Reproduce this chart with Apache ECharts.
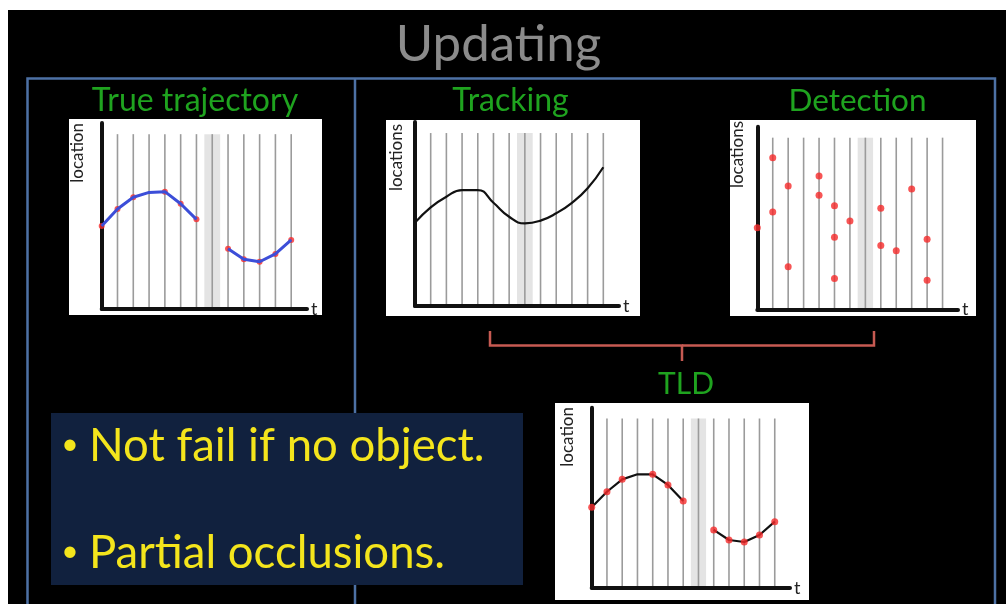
<!DOCTYPE html>
<html><head><meta charset="utf-8">
<script src="https://cdn.jsdelivr.net/npm/echarts@6/dist/echarts.min.js"></script>
<style>html,body{margin:0;padding:0;background:#000;}#c{width:1006px;height:604px;}</style>
</head><body><div id="c"></div>
<script>
// ---- data ----
const slideTitle = 'Updating';
const panelTitles = ['True trajectory', 'Tracking', 'Detection', 'TLD'];
const yNames = ['location', 'locations', 'locations', 'location'];
const xName = 't';
const bullets = ['Not fail if no object.', 'Partial occlusions.'];
const gridT = [1, 2, 3, 4, 5, 6, 7, 8, 9, 10, 11, 12];
const bandT = [6.5, 7.5];
const gridTop = 94;
const tValues = [0, 1, 2, 3, 4, 5, 6, 7, 8, 9, 10, 11, 12];
const trueLoc = [44.6, 53.8, 60.1, 62.7, 63.1, 56.6, 48.2, null, 32.4, 26.7, 25.4, 29.6, 37.1];
const trueDotT = [0, 1, 2, 4, 5, 6, 8, 9, 10, 11, 12];
const trackLoc = [45.3, 53.6, 59.4, 63.0, 63.0, 56.1, 48.5, 44.9, 46.4, 50.4, 56.1, 64.0, 75.4];
const detT =   [0,    1,    1,    2,    2,    4,    4,    5,    5,    5,    6,    8,    8,    9,    10,   11,   11];
const detLoc = [44.7, 83.0, 53.3, 67.5, 23.3, 73.0, 62.4, 56.7, 39.4, 16.8, 48.4, 55.3, 35.0, 32.1, 65.9, 38.3, 15.9];
const tldLoc = [44.7, 53.3, 60.2, 63.0, 63.0, 57.1, 48.2, null, 32.1, 26.5, 25.4, 29.3, 36.7];
const tldDotT = [0, 1, 2, 4, 5, 6, 8, 9, 10, 11, 12];

// ---- layout ----
const FONT = 'Lato, "Open Sans", sans-serif';
const grids = [
  {left: 101.7, top: 123, width: 205.3, height: 186},
  {left: 415, top: 122, width: 204, height: 184},
  {left: 757.3, top: 126.7, width: 200.7, height: 182.6},
  {left: 591.7, top: 407.7, width: 198.3, height: 180}
];
const panels = [
  {x: 69, y: 119, w: 253, h: 196},
  {x: 386, y: 120, w: 254, h: 196},
  {x: 730, y: 120, w: 246, h: 196},
  {x: 555, y: 403, w: 254, h: 197}
];
const titlePos = [[195, 101], [510.5, 101], [857.5, 101], [686, 384]];
const titleSize = [32, 32, 31.5, 30];
const yNamePos = [[78, 123], [397, 124], [738, 121], [568, 407]];

const axisLine = {show: true, lineStyle: {color: '#111', width: 4}};
const xAxes = grids.map((g, i) => ({
  type: 'value', gridIndex: i, min: 0, max: 13, z: 3,
  axisLine: axisLine, axisTick: {show: false}, axisLabel: {show: false}, splitLine: {show: false},
  name: xName, nameLocation: 'end', nameGap: 4,
  nameTextStyle: {color: '#222', fontSize: 18, fontFamily: FONT, verticalAlign: 'middle'}
}));
const yAxes = grids.map((g, i) => ({
  type: 'value', gridIndex: i, min: 0, max: 100, z: 3,
  axisLine: axisLine, axisTick: {show: false}, axisLabel: {show: false}, splitLine: {show: false}
}));

function gridLineSeries(i) {
  return {
    type: 'custom', xAxisIndex: i, yAxisIndex: i, silent: true, z: 1,
    data: gridT.map(t => [t, gridTop]),
    renderItem: (params, api) => {
      const p0 = api.coord([api.value(0), 0]);
      const p1 = api.coord([api.value(0), api.value(1)]);
      return {type: 'line', shape: {x1: p0[0], y1: p0[1], x2: p1[0], y2: p1[1]},
        style: {stroke: '#9b9b9b', lineWidth: 1.6}};
    }
  };
}
function bandSeries(i) {
  return {
    type: 'custom', xAxisIndex: i, yAxisIndex: i, silent: true, z: 0.5,
    data: [[bandT[0], bandT[1], gridTop]],
    renderItem: (params, api) => {
      const a = api.coord([api.value(0), api.value(2)]);
      const b = api.coord([api.value(1), 0]);
      return {type: 'rect', shape: {x: a[0], y: a[1], width: b[0] - a[0], height: b[1] - a[1]},
        style: {fill: '#e4e4e4'}};
    }
  };
}

const series = [];
for (let i = 0; i < 4; i++) { series.push(bandSeries(i)); series.push(gridLineSeries(i)); }
// True trajectory
series.push({type: 'scatter', xAxisIndex: 0, yAxisIndex: 0, z: 4, symbolSize: 6,
  itemStyle: {color: '#f52a2a'}, data: trueDotT.map(t => [t, trueLoc[t]])});
series.push({type: 'line', xAxisIndex: 0, yAxisIndex: 0, z: 5, showSymbol: false, connectNulls: false,
  lineStyle: {color: '#3c4ed8', width: 3}, data: tValues.map(t => [t, trueLoc[t]])});
// Tracking
series.push({type: 'line', xAxisIndex: 1, yAxisIndex: 1, z: 5, showSymbol: false, smooth: 0.5,
  lineStyle: {color: '#111', width: 2.2}, data: tValues.map(t => [t, trackLoc[t]])});
// Detection
series.push({type: 'scatter', xAxisIndex: 2, yAxisIndex: 2, z: 5, symbolSize: 7,
  itemStyle: {color: '#f52a2a'}, data: detT.map((t, k) => [t, detLoc[k]])});
// TLD
series.push({type: 'line', xAxisIndex: 3, yAxisIndex: 3, z: 5, showSymbol: false, connectNulls: false,
  lineStyle: {color: '#111', width: 2.2}, data: tValues.map(t => [t, tldLoc[t]])});
series.push({type: 'scatter', xAxisIndex: 3, yAxisIndex: 3, z: 6, symbolSize: 7,
  itemStyle: {color: '#f52a2a'}, data: tldDotT.map(t => [t, tldLoc[t]])});

const frame = '#4d71a5';
const graphic = [
  {type: 'rect', z: -10, shape: {x: 0, y: 0, width: 1006, height: 10}, style: {fill: '#fff'}},
  {type: 'rect', z: -10, shape: {x: 0, y: 0, width: 8, height: 604}, style: {fill: '#fff'}},
  {type: 'polyline', z: -9, shape: {points: [[27.5, 604], [27.5, 78.5], [995, 78.5], [995, 604]]}, style: {stroke: frame, lineWidth: 2.5, fill: null}},
  {type: 'line', z: -9, shape: {x1: 355, y1: 78.5, x2: 355, y2: 604}, style: {stroke: frame, lineWidth: 2.5}},
  {type: 'rect', z: -8, shape: {x: 51, y: 413, width: 472, height: 172}, style: {fill: '#11213e'}},
  {type: 'text', z: 10, x: 498.5, y: 45, style: {text: slideTitle, fill: '#8b8b8b', font: '51px ' + FONT, textAlign: 'center', textVerticalAlign: 'middle'}},
  {type: 'polyline', z: -7, shape: {points: [[490, 331], [490, 345.5], [682, 345.5], [682, 361]]}, style: {stroke: '#c65a52', lineWidth: 2.5, fill: null}},
  {type: 'polyline', z: -7, shape: {points: [[682, 345.5], [874, 345.5], [874, 331]]}, style: {stroke: '#c65a52', lineWidth: 2.5, fill: null}}
];
bullets.forEach((b, k) => {
  const y = [446, 553][k];
  graphic.push({type: 'text', z: 10, x: 70, y: y - 2, style: {text: '\u2022', fill: '#f4e51c', font: '30px ' + FONT, textAlign: 'center', textVerticalAlign: 'middle'}});
  graphic.push({type: 'text', z: 10, x: 89, y: y, style: {text: b, fill: '#f4e51c', font: '45.5px ' + FONT, textAlign: 'left', textVerticalAlign: 'middle'}});
});
panels.forEach((p, i) => {
  graphic.push({type: 'rect', z: -6, shape: {x: p.x, y: p.y, width: p.w, height: p.h}, style: {fill: '#fff'}});
  graphic.push({type: 'text', z: 10, x: titlePos[i][0], y: titlePos[i][1], style: {text: panelTitles[i], fill: '#1fa31f', font: titleSize[i] + 'px ' + FONT, textAlign: 'center', textVerticalAlign: 'middle'}});
  graphic.push({type: 'text', z: 10, x: yNamePos[i][0], y: yNamePos[i][1], rotation: Math.PI / 2, style: {text: yNames[i], fill: '#222', font: '17px ' + FONT, textAlign: 'right', textVerticalAlign: 'middle'}});
});

const chart = echarts.init(document.getElementById('c'), null, {renderer: 'canvas'});
chart.setOption({
  backgroundColor: '#000',
  animation: false,
  grid: grids.map(g => Object.assign({containLabel: false}, g)),
  xAxis: xAxes,
  yAxis: yAxes,
  series: series,
  graphic: graphic
});
</script></body></html>
